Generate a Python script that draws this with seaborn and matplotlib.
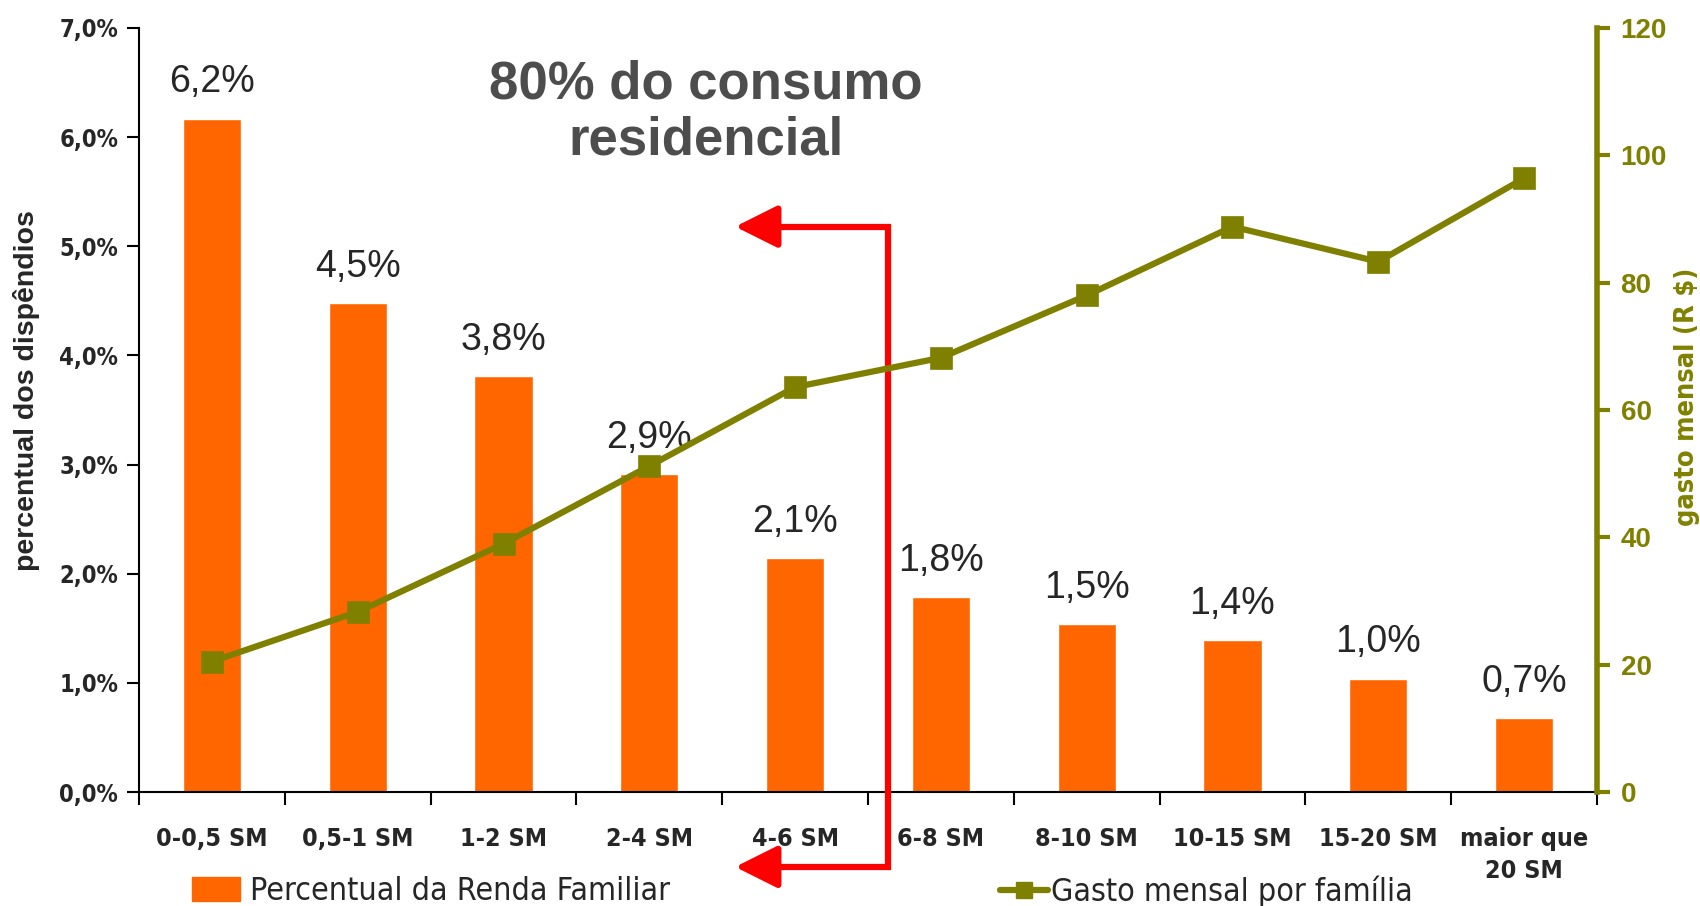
import numpy as np
import matplotlib
matplotlib.use("Agg")
import matplotlib.pyplot as plt
import matplotlib.transforms as mtransforms
from matplotlib.patches import Patch
from matplotlib.lines import Line2D
from matplotlib import font_manager
import seaborn as sns

# -----------------------------
# DATA
# -----------------------------
faixas = ["0-0,5 SM", "0,5-1 SM", "1-2 SM", "2-4 SM", "4-6 SM",
          "6-8 SM", "8-10 SM", "10-15 SM", "15-20 SM", "maior que\n20 SM"]
pct_renda = [6.17, 4.48, 3.81, 2.91, 2.14, 1.79, 1.54, 1.39, 1.04, 0.68]
gasto_mensal = [20.5, 28.3, 39.0, 51.2, 63.6, 68.2, 78.0, 88.8, 83.3, 96.4]

left_ticks = [0, 1, 2, 3, 4, 5, 6, 7]
right_ticks = [0, 20, 40, 60, 80, 100, 120]

ORANGE = "#FF6600"
OLIVE = "#808000"
ARIAL = ["Liberation Sans", "DejaVu Sans"]

sns.set_style("white")
plt.rcParams["font.family"] = ARIAL

# condensed face for the category / legend text (Arial Narrow look)
NARROW_B = font_manager.FontProperties(family="DejaVu Sans", stretch="condensed",
                                       weight="bold", size=18)
NARROW_R = font_manager.FontProperties(family="DejaVu Sans", stretch="condensed",
                                       weight="normal", size=23)
NARROW_Y = font_manager.FontProperties(family="DejaVu Sans", stretch="condensed",
                                       weight="bold", size=17)
NARROW_Y2 = font_manager.FontProperties(family="DejaVu Sans", stretch="condensed",
                                        weight="bold", size=19.5)

fig = plt.figure(figsize=(17, 9.06), dpi=100)
ax = fig.add_axes([0.0818, 0.1258, 0.8576, 0.8433])

# -----------------------------
# BARS
# -----------------------------
sns.barplot(x=faixas, y=pct_renda, color=ORANGE, width=0.4,
            saturation=1, ax=ax, zorder=2)

for i, v in enumerate(pct_renda):
    ax.annotate(f"{v:.1f}".replace(".", ",") + "%", (i, v),
                xytext=(0, 26), textcoords="offset points",
                ha="center", va="center", fontsize=27, family=ARIAL)

ax.set_ylim(0, 7)
ax.set_xlim(-0.5, len(faixas) - 0.5)
ax.set_yticks(left_ticks)
ax.set_yticklabels([f"{t},0%" for t in left_ticks], fontproperties=NARROW_Y)
ax.set_ylabel("percentual dos dispêndios", fontsize=20.5, fontweight="bold",
              family=ARIAL)
ax.yaxis.set_label_coords(-0.068, 0.526)

# category labels at centres, tick marks at the boundaries
ax.set_xticks(np.arange(len(faixas)))
ax.set_xticklabels(faixas, fontproperties=NARROW_B, linespacing=1.45)
ax.set_xticks(np.arange(len(faixas) + 1) - 0.5, minor=True)
ax.tick_params(axis="x", which="major", length=0, pad=25)
ax.tick_params(axis="x", which="minor", length=9, width=1.5, color="black",
               direction="out", bottom=True)
ax.tick_params(axis="y", length=9, width=1.5, color="black", direction="out",
               left=True, pad=6)
ax.set_xlabel("")

for side in ["top", "right"]:
    ax.spines[side].set_visible(False)
ax.spines["left"].set_color("black")
ax.spines["left"].set_linewidth(1.5)
ax.spines["bottom"].set_color("black")
ax.spines["bottom"].set_linewidth(1.5)

# -----------------------------
# LINE (right axis)
# -----------------------------
ax2 = ax.twinx()
sns.pointplot(x=faixas, y=gasto_mensal, color=OLIVE, markers="s",
              markersize=13, linewidth=4.5, ax=ax2)
ax2.set_xlim(-0.5, len(faixas) - 0.5)
ax2.set_ylim(0, 120)
ax2.set_yticks(right_ticks)
ax2.set_yticklabels([str(t) for t in right_ticks], color=OLIVE,
                    fontweight="bold", fontsize=20, family=ARIAL)
ax2.tick_params(axis="y", length=9, width=3, color=OLIVE, direction="out",
                right=True, pad=8)
ax2.set_ylabel("gasto mensal (R $)", color=OLIVE, fontproperties=NARROW_Y2)
ax2.yaxis.set_label_coords(1.053, 0.517)
for side in ["top", "left", "bottom"]:
    ax2.spines[side].set_visible(False)
ax2.spines["right"].set_color(OLIVE)
ax2.spines["right"].set_linewidth(4)
ax2.grid(False)
ax.grid(False)

# -----------------------------
# RED BRACKET ARROW
# -----------------------------
trans = mtransforms.blended_transform_factory(ax.transData, ax.transAxes)
x_line, x_tip = 4.64, 3.57
y_top, y_bot = 0.74, -0.098
ax.plot([x_tip + 0.2, x_line, x_line, x_tip + 0.2],
        [y_top, y_top, y_bot, y_bot], color="red", lw=4.5,
        transform=trans, clip_on=False, zorder=5, solid_joinstyle="miter")
for yy in (y_top, y_bot):
    ax.annotate("", xy=(x_tip, yy), xytext=(x_tip + 0.3, yy),
                xycoords=trans, textcoords=trans,
                arrowprops=dict(arrowstyle="-|>,head_length=1.3,head_width=0.65",
                                color="red", lw=4.5, mutation_scale=20),
                annotation_clip=False, zorder=6)

# -----------------------------
# TITLE TEXT
# -----------------------------
fig.text(0.415, 0.876, "80% do consumo\nresidencial", ha="center",
         va="center", fontsize=38, fontweight="bold", color="#4D4D4D",
         linespacing=1.15, family=ARIAL)

# -----------------------------
# LEGENDS
# -----------------------------
fig.legend(handles=[Patch(facecolor=ORANGE, edgecolor=ORANGE)],
           labels=["Percentual da Renda Familiar"],
           loc="center left", bbox_to_anchor=(0.113, 0.016),
           frameon=False, borderpad=0, borderaxespad=0,
           handlelength=1.5, handleheight=0.75, handletextpad=0.3,
           prop=NARROW_R)
fig.legend(handles=[Line2D([], [], color=OLIVE, lw=4.5, marker="s",
                           markersize=12)],
           labels=["Gasto mensal por família"],
           loc="center left", bbox_to_anchor=(0.588, 0.016),
           frameon=False, borderpad=0, borderaxespad=0,
           handlelength=1.5, handletextpad=0.1,
           prop=NARROW_R)

fig.savefig("out.png", dpi=100)
